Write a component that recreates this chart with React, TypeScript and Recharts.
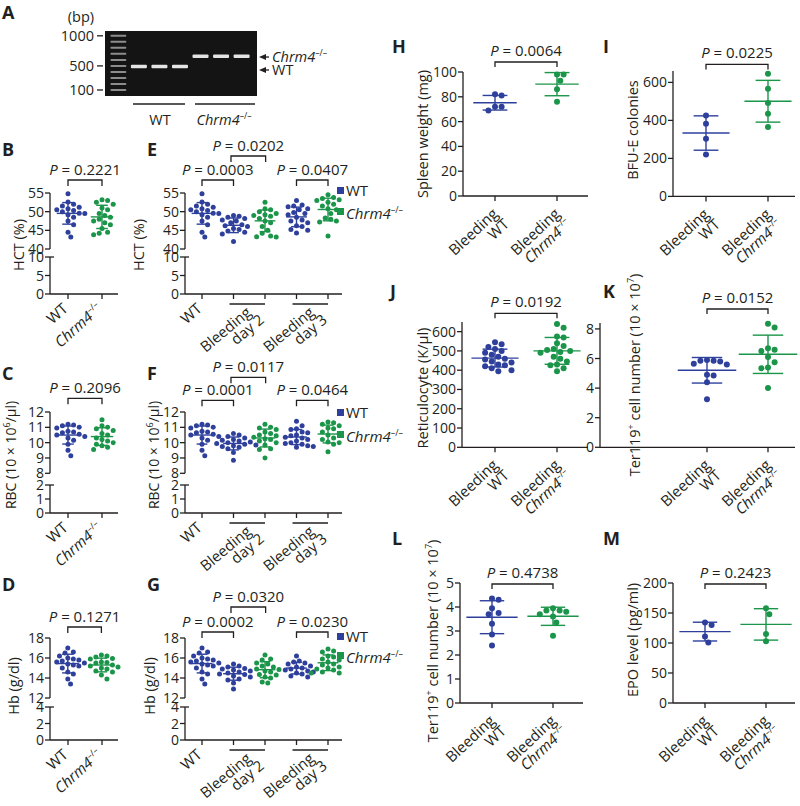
import React from 'react';
import { ScatterChart, Scatter, XAxis, YAxis, ReferenceLine, ReferenceArea } from 'recharts';

const FONT = '"Open Sans", "DejaVu Sans", sans-serif';
const INK = '#231F20';
const BLUE = '#2E409C';
const GREEN = '#1B9549';

// A: genotyping gel (bp)
const gelLadder = [1000, 900, 800, 700, 600, 500, 400, 300, 200, 100];
const gelTicks = [100, 500, 1000];
const gelWTLanes = [1, 2, 3];
const gelKOLanes = [4, 5, 6];
const gelWTSize = 490;
const gelKOSize = 660;

// HCT (%)
const hctWT = [54.8, 52.6, 52, 51.5, 51.2, 50.8, 50.5, 50.3, 50, 49.6, 49.5, 49.2, 48.5, 47.5, 46.5, 44.5, 43.2];
const hctKO = [53.2, 53, 52.5, 52, 51, 50.5, 49.5, 49, 48.5, 48, 47.5, 47, 46.5, 45.5, 44.5, 44.2, 43.8];
const hctD2WT = [49, 48.8, 48.5, 48.2, 47.8, 47.5, 47, 46.5, 46.2, 46, 45.5, 45.2, 44.8, 44.5, 44, 42];
const hctD2KO = [52.5, 50.8, 50.5, 50, 49.5, 49.2, 49, 48.8, 48.2, 47.5, 47, 46, 45, 44.2, 43.5, 43.3, 43.2];
const hctD3WT = [53, 51.8, 51.5, 51.3, 50.8, 50.5, 49.8, 49.5, 49.2, 48.5, 47.8, 47.5, 47, 46.2, 46, 45.2, 45, 44.3];
const hctD3KO = [54.5, 53.8, 53.5, 53.2, 53, 52.5, 52, 51.5, 50.8, 50.5, 49.5, 48.3, 48, 47.5, 47.2, 43.5];

// RBC (10 x 10^6/ul)
const rbcWT = [11.2, 11.15, 11.1, 11.0, 10.95, 10.75, 10.7, 10.65, 10.55, 10.5, 10.4, 10.3, 10.15, 9.9, 9.5, 9.15];
const rbcKO = [11.5, 11.1, 11.0, 10.9, 10.8, 10.6, 10.5, 10.3, 10.2, 10.1, 10.0, 9.9, 9.8, 9.7, 9.55];
const rbcD2WT = [10.6, 10.5, 10.4, 10.3, 10.2, 10.15, 10.1, 10.05, 10.0, 9.95, 9.9, 9.85, 9.8, 9.75, 9.7, 9.6, 9.35, 8.85];
const rbcD2KO = [11.2, 11.0, 10.95, 10.85, 10.7, 10.6, 10.5, 10.45, 10.35, 10.25, 10.2, 10.1, 10.0, 9.85, 9.6, 9.55, 9.0];
const rbcD3WT = [11.4, 11.1, 10.9, 10.85, 10.7, 10.65, 10.5, 10.45, 10.35, 10.3, 10.2, 10.1, 10.0, 9.95, 9.9, 9.8, 9.75, 9.7];
const rbcD3KO = [11.35, 11.3, 11.2, 11.1, 10.95, 10.9, 10.7, 10.6, 10.5, 10.3, 10.2, 10.05, 10.0, 9.9, 9.4];

// Hb (g/dl)
const hbWT = [17.0, 16.6, 16.5, 16.2, 16.0, 15.9, 15.8, 15.7, 15.6, 15.5, 15.4, 15.3, 15.2, 15.0, 14.6, 14.4, 13.9, 13.4];
const hbKO = [16.3, 16.2, 16.1, 15.95, 15.9, 15.6, 15.55, 15.5, 15.3, 15.2, 15.1, 15.0, 14.9, 14.7, 14.6, 14.3, 13.9];
const hbD2WT = [15.4, 15.2, 15.1, 14.95, 14.9, 14.8, 14.7, 14.6, 14.5, 14.4, 14.35, 14.2, 14.1, 13.9, 13.8, 13.5, 12.9];
const hbD2KO = [16.3, 15.9, 15.8, 15.5, 15.4, 15.2, 15.1, 14.9, 14.85, 14.7, 14.6, 14.35, 14.3, 14.1, 14.0, 13.6, 13.5];
const hbD3WT = [16.2, 15.7, 15.6, 15.5, 15.4, 15.2, 15.1, 15.0, 14.9, 14.8, 14.7, 14.6, 14.5, 14.4, 14.2, 14.1];
const hbD3KO = [16.9, 16.7, 16.6, 16.2, 16.1, 15.9, 15.8, 15.6, 15.4, 15.3, 15.1, 15.0, 14.9, 14.8, 14.6, 14.5, 14.5];

// bleeding experiments
const spleenWT = [82, 81, 72, 72, 69];
const spleenKO = [98, 98, 93, 86, 76];
const bfueWT = [426, 383, 304, 221];
const bfueKO = [646, 567, 491, 435, 365];
const reticWT = [545, 535, 520, 510, 500, 490, 480, 470, 460, 455, 445, 440, 430, 425, 420, 410, 400, 395];
const reticKO = [640, 620, 575, 570, 540, 525, 510, 505, 500, 495, 490, 470, 460, 445, 430, 425, 410, 395];
const ter119KWT = [5.9, 5.85, 5.85, 5.8, 5.65, 5.6, 4.9, 4.85, 4.4, 3.25];
const ter119KKO = [8.35, 8.1, 6.7, 6.6, 6.5, 6.1, 5.75, 5.4, 5.35, 4.0];
const ter119LWT = [4.35, 4.3, 3.95, 3.75, 3.7, 3.3, 2.85, 2.4];
const ter119LKO = [3.95, 3.85, 3.85, 3.8, 3.7, 3.6, 3.35, 2.8];
const epoWT = [134, 130, 111, 101];
const epoKO = [158, 148, 115, 103];

const mean = (a: number[]) => a.reduce((s, v) => s + v, 0) / a.length;
const sdev = (a: number[]) => {
  const m = mean(a);
  return Math.sqrt(a.reduce((s, v) => s + (v - m) ** 2, 0) / (a.length - 1));
};

// simple beeswarm: horizontal offsets (px) so dots don't overlap
function swarm(values: number[], ppuY: number, r: number): number[] {
  const d = 2 * r + 0.6;
  const idx = values.map((_, i) => i).sort((a, b) => values[b] - values[a]);
  const placed: [number, number][] = [];
  const out: number[] = new Array(values.length).fill(0);
  idx.forEach((i) => {
    const y = values[i] * ppuY;
    let off = 0;
    for (let k = 0; k < 80; k++) {
      const c = k === 0 ? 0 : (k % 2 === 1 ? 1 : -1) * Math.ceil(k / 2) * (d / 2);
      if (placed.every(([px, py]) => (px - c) ** 2 + (py - y) ** 2 >= d * d)) {
        off = c;
        break;
      }
    }
    placed.push([off, y]);
    out[i] = off;
  });
  return out;
}

const chrmSvg = (size: number) => [
  <tspan key="c" fontStyle="italic">Chrm4</tspan>,
  <tspan key="s" fontSize={size * 0.6} dy={-size * 0.42}>–/–</tspan>,
];
const tok = (s: string, size: number) => (s === 'Chrm4' ? chrmSvg(size) : s);

type Seg = { lo: number; hi: number; ticks: number[]; top: number; bottom: number };
type Grp = { values: number[]; color: string };
type Br = { a: number; b: number; p: string; up: number };
type XL = { at: number; lines: string[]; bar?: boolean; dx: number; dy: number; l2dx: number; l2dy: number; rot: number };

const SINGLE = { dx: 1, dy: 16, l2dx: 0, l2dy: 0, rot: -42 };
const DOUBLE_L = { dx: 3, dy: 20, l2dx: 5, l2dy: 14, rot: -40 };
const DOUBLE_R = { dx: 4, dy: 19, l2dx: 1, l2dy: 15, rot: -43 };

const pairLabels: XL[] = [
  { at: 0, lines: ['WT'], ...SINGLE },
  { at: 1, lines: ['Chrm4'], ...SINGLE },
];
const timeLabels: XL[] = [
  { at: 0, lines: ['WT'], ...SINGLE },
  { at: 1.5, lines: ['Bleeding', 'day 2'], bar: true, ...DOUBLE_L },
  { at: 3.5, lines: ['Bleeding', 'day 3'], bar: true, ...DOUBLE_L },
];
const bleedLabels: XL[] = [
  { at: 0, lines: ['Bleeding', 'WT'], ...DOUBLE_R },
  { at: 1, lines: ['Bleeding', 'Chrm4'], ...DOUBLE_R },
];

function XTick(props: any) {
  const { x, y, payload, n, labels, step } = props;
  const v = payload.value;
  const axisY = y - 5;
  const lab = (labels as XL[]).find((l) => Math.abs(l.at - v) < 1e-6);
  const isCat = Number.isInteger(v) && v >= 0 && v < n;
  const ax = lab ? x + lab.dx : 0;
  const ay = lab ? axisY + lab.dy : 0;
  return (
    <g>
      {isCat && <line x1={x} x2={x} y1={axisY} y2={axisY + 5} stroke={INK} strokeWidth={1.3} />}
      {lab && lab.bar && (
        <line x1={x - step / 2 - 4} x2={x + step / 2} y1={axisY + 10} y2={axisY + 10} stroke={INK} strokeWidth={1.3} />
      )}
      {lab && (
        <text transform={`rotate(${lab.rot} ${ax} ${ay})`} fontFamily={FONT} fontSize={15} fill={INK} textAnchor="end">
          {lab.lines.map((ln, i) => (
            <tspan key={i} x={ax + (i ? lab.l2dx : 0)} y={ay + (i ? lab.l2dy : 0)}>
              {tok(ln, 15)}
            </tspan>
          ))}
        </text>
      )}
    </g>
  );
}

function YTick(props: any) {
  const { x, y, payload, brk } = props;
  const axisX = x + 6;
  return (
    <g>
      <text x={x} y={y + 5} textAnchor="end" fontFamily={FONT} fontSize={14} fill={INK}>
        {payload.value}
      </text>
      {brk === payload.value && <line x1={axisX} x2={axisX + 4} y1={y} y2={y} stroke={INK} strokeWidth={1.3} />}
    </g>
  );
}

const YW = 60;

type PanelProps = {
  x0: number;
  x1: number;
  cat0: number;
  step: number;
  groups: Grp[];
  segs: Seg[];
  brackets: Br[];
  labels: XL[];
  r: number;
  meanW: number;
  capW: number;
  leg: number;
  pGap: number;
};

function DotPanel(p: PanelProps) {
  const n = p.groups.length;
  const dmin = (p.x0 - p.cat0) / p.step;
  const dmax = (p.x1 - p.cat0) / p.step;
  const s0 = p.segs[0];
  const ppu0 = (s0.bottom - s0.top) / (s0.hi - s0.lo);
  const pts = p.groups.map((g, gi) => {
    const offs = swarm(g.values, ppu0, p.r);
    return g.values.map((v, i) => ({ x: gi + offs[i] / p.step, y: v }));
  });
  const xTicks = Array.from(new Set([...p.groups.map((_, i) => i), ...p.labels.map((l) => l.at)])).sort((a, b) => a - b);

  return (
    <>
      {p.segs.map((s, si) => {
        const first = si === 0;
        const last = si === p.segs.length - 1;
        const h = s.bottom - s.top;
        const ppu = h / (s.hi - s.lo);
        const brk = si > 0 ? s.hi : null;
        return (
          <div key={si} style={{ position: 'absolute', left: p.x0 - YW, top: s.top }}>
            <ScatterChart width={YW + p.x1 - p.x0} height={h + (last ? 6 : 0)} margin={{ top: 0, right: 0, bottom: 0, left: 0 }}>
              <XAxis
                type="number"
                dataKey="x"
                domain={[dmin, dmax]}
                ticks={xTicks}
                interval={0}
                hide={!last}
                height={6}
                allowDataOverflow={!first}
                tickLine={false}
                tickSize={5}
                tickMargin={0}
                axisLine={{ stroke: INK, strokeWidth: 1.3 }}
                tick={(tp: any) => <XTick {...tp} n={n} labels={p.labels} step={p.step} />}
              />
              <YAxis
                type="number"
                dataKey="y"
                domain={[s.lo, s.hi]}
                ticks={s.ticks}
                interval={0}
                width={YW}
                allowDataOverflow={!first}
                tickSize={5}
                tickMargin={1}
                axisLine={{ stroke: INK, strokeWidth: 1.3 }}
                tickLine={{ stroke: INK, strokeWidth: 1.3 }}
                tick={(tp: any) => <YTick {...tp} brk={brk} />}
              />
              {first &&
                pts.map((d, gi) => (
                  <Scatter
                    key={`g${gi}`}
                    data={d}
                    fill={p.groups[gi].color}
                    isAnimationActive={false}
                    shape={(sp: any) => <circle cx={sp.cx} cy={sp.cy} r={p.r} fill={p.groups[gi].color} />}
                  />
                ))}
              {first &&
                p.groups.map((g, gi) => {
                  const m = mean(g.values);
                  const sd = sdev(g.values);
                  const st = { stroke: g.color, strokeWidth: 1.4, ifOverflow: 'visible' as const };
                  return [
                    <ReferenceLine key={`m${gi}`} segment={[{ x: gi - p.meanW, y: m }, { x: gi + p.meanW, y: m }]} {...st} />,
                    <ReferenceLine key={`v${gi}`} segment={[{ x: gi, y: m - sd }, { x: gi, y: m + sd }]} {...st} />,
                    <ReferenceLine key={`t${gi}`} segment={[{ x: gi - p.capW, y: m + sd }, { x: gi + p.capW, y: m + sd }]} {...st} />,
                    <ReferenceLine key={`b${gi}`} segment={[{ x: gi - p.capW, y: m - sd }, { x: gi + p.capW, y: m - sd }]} {...st} />,
                  ];
                })}
              {first &&
                p.brackets.map((b, bi) => {
                  const yb = s.hi + b.up / ppu;
                  return (
                    <ReferenceLine
                      key={`br${bi}`}
                      segment={[{ x: b.a, y: yb }, { x: b.b, y: yb }]}
                      ifOverflow="visible"
                      shape={(lp: any) => (
                        <g>
                          <path
                            d={`M${lp.x1},${lp.y1 + p.leg}V${lp.y1}H${lp.x2}V${lp.y2 + p.leg}`}
                            fill="none"
                            stroke={INK}
                            strokeWidth={1.3}
                          />
                          <text
                            x={(lp.x1 + lp.x2) / 2}
                            y={lp.y1 - p.pGap}
                            textAnchor="middle"
                            fontFamily={FONT}
                            fontSize={15}
                            fill={INK}
                          >
                            <tspan fontStyle="italic">P</tspan>
                            {' = ' + b.p}
                          </text>
                        </g>
                      )}
                    />
                  );
                })}
            </ScatterChart>
          </div>
        );
      })}
    </>
  );
}

function GelTick(props: any) {
  const { x, y, payload } = props;
  return (
    <g>
      <line x1={x - 8} x2={x - 2} y1={y} y2={y} stroke={INK} strokeWidth={1.3} />
      <text x={x - 11} y={y + 5} textAnchor="end" fontFamily={FONT} fontSize={14.5} fill={INK}>
        {payload.value}
      </text>
    </g>
  );
}

const bandShape = (w: number, h: number, fill: string) => (sp: any) => (
  <rect x={sp.cx - w / 2} y={sp.cy - h / 2} width={w} height={h} fill={fill} rx={1} />
);

function GelPanel() {
  const x0 = 105, x1 = 257, top = 31, bottom = 96, yw = 50;
  const dom: [number, number] = [-0.65, 6.75];
  const ladder = gelLadder.map((v) => ({ x: 0, y: v }));
  const wt = gelWTLanes.map((l) => ({ x: l, y: gelWTSize }));
  const ko = gelKOLanes.map((l) => ({ x: l, y: gelKOSize }));
  return (
    <div style={{ position: 'absolute', left: x0 - yw, top }}>
      <ScatterChart width={yw + x1 - x0} height={bottom - top} margin={{ top: 0, right: 0, bottom: 0, left: 0 }}>
        <XAxis type="number" dataKey="x" domain={dom} hide allowDataOverflow />
        <YAxis
          type="number"
          dataKey="y"
          domain={[0, 1080]}
          ticks={gelTicks}
          interval={0}
          width={yw}
          allowDataOverflow
          axisLine={false}
          tickLine={false}
          tickSize={0}
          tickMargin={0}
          tick={(tp: any) => <GelTick {...tp} />}
        />
        <ReferenceArea x1={dom[0]} x2={dom[1]} y1={0} y2={1080} fill="#141414" fillOpacity={1} stroke="none" ifOverflow="visible" />
        <Scatter data={ladder} isAnimationActive={false} shape={bandShape(16, 2, '#8c8c8c')} />
        <Scatter data={wt} isAnimationActive={false} shape={bandShape(16, 3.5, '#e4e4e4')} />
        <Scatter data={ko} isAnimationActive={false} shape={bandShape(16, 3.5, '#e4e4e4')} />
      </ScatterChart>
    </div>
  );
}

function VTitle({ cx, cy, size = 14.5, children }: { cx: number; cy: number; size?: number; children: React.ReactNode }) {
  return (
    <div
      style={{
        position: 'absolute',
        left: cx,
        top: cy,
        transform: 'translate(-50%, -50%) rotate(-90deg)',
        whiteSpace: 'nowrap',
        fontSize: size,
        lineHeight: 1,
      }}
    >
      {children}
    </div>
  );
}

function Letter({ x, y, t }: { x: number; y: number; t: string }) {
  return (
    <div style={{ position: 'absolute', left: x, top: y - 3, fontWeight: 700, fontSize: 18, lineHeight: 1 }}>{t}</div>
  );
}

function Legend2({ x, y1, y2 }: { x: number; y1: number; y2: number }) {
  const row = (y: number, color: string, label: React.ReactNode) => (
    <div style={{ position: 'absolute', left: x - 4, top: y - 9, display: 'flex', alignItems: 'center', whiteSpace: 'nowrap', fontSize: 15, lineHeight: '18px' }}>
      <span style={{ display: 'inline-block', width: 7, height: 7, background: color, marginRight: 2 }} />
      {label}
    </div>
  );
  return (
    <>
      {row(y1, BLUE, 'WT')}
      {row(y2, GREEN, <span><i>Chrm4</i><sup style={{ fontSize: 9 }}>–/–</sup></span>)}
    </>
  );
}

const sup = (t: string) => <sup style={{ fontSize: 9, lineHeight: 0 }}>{t}</sup>;

const L1 = { x0: 50, x1: 118, cat0: 68, step: 34 };
const L2 = { x0: 185, x1: 342, cat0: 202, step: 31.5 };
const leftStyle = { r: 2.5, meanW: 0.33, capW: 0.17, leg: 6, pGap: 5 };
const rightStyle = { r: 3, meanW: 0.38, capW: 0.2, leg: 5, pGap: 6 };

const hctSegs: Seg[] = [
  { lo: 40, hi: 55, ticks: [40, 45, 50, 55], top: 193, bottom: 249 },
  { lo: 0, hi: 10, ticks: [0, 5, 10], top: 257, bottom: 294 },
];
const rbcSegs: Seg[] = [
  { lo: 8, hi: 12, ticks: [8, 9, 10, 11, 12], top: 411.7, bottom: 473 },
  { lo: 0, hi: 2, ticks: [0, 1, 2], top: 485, bottom: 513 },
];
const hbSegs: Seg[] = [
  { lo: 12, hi: 18, ticks: [12, 14, 16, 18], top: 638, bottom: 698 },
  { lo: 0, hi: 4, ticks: [0, 2, 4], top: 707, bottom: 740 },
];

const g2 = (a: number[], b: number[]): Grp[] => [
  { values: a, color: BLUE },
  { values: b, color: GREEN },
];
const g5 = (a: number[], b: number[], c: number[], d: number[], e: number[]): Grp[] => [
  { values: a, color: BLUE },
  { values: b, color: BLUE },
  { values: c, color: GREEN },
  { values: d, color: BLUE },
  { values: e, color: GREEN },
];

export default function App() {
  return (
    <div
      style={{
        position: 'absolute',
        left: 0,
        top: 0,
        width: 800,
        height: 806,
        background: '#fff',
        fontFamily: FONT,
        color: INK,
        overflow: 'hidden',
      }}
    >
      <style>{'.recharts-surface{overflow:visible}.recharts-wrapper{overflow:visible}'}</style>

      {/* A */}
      <GelPanel />
      <svg style={{ position: 'absolute', left: 0, top: 0 }} width={400} height={130} fontFamily={FONT}>
        <text x={81} y={22} textAnchor="middle" fontSize={14.5} fill={INK}>(bp)</text>
        <polygon points="259,57 266,54 266,60" fill={INK} />
        <line x1={265} x2={269} y1={57} y2={57} stroke={INK} strokeWidth={1.3} />
        <text x={272} y={62} fontSize={14.5} fill={INK}>{chrmSvg(14.5)}</text>
        <polygon points="259,70 266,67 266,73" fill={INK} />
        <line x1={265} x2={269} y1={70} y2={70} stroke={INK} strokeWidth={1.3} />
        <text x={272} y={75} fontSize={14.5} fill={INK}>WT</text>
        <line x1={133} x2={185} y1={104} y2={104} stroke={INK} strokeWidth={1.3} />
        <line x1={195} x2={255} y1={104} y2={104} stroke={INK} strokeWidth={1.3} />
        <text x={160} y={125} textAnchor="middle" fontSize={14.5} fill={INK}>WT</text>
        <text x={224} y={125} textAnchor="middle" fontSize={14.5} fill={INK}>{chrmSvg(14.5)}</text>
      </svg>

      {/* B-G */}
      <DotPanel {...L1} {...leftStyle} groups={g2(hctWT, hctKO)} segs={hctSegs} labels={pairLabels}
        brackets={[{ a: 0, b: 1, p: '0.2221', up: 13 }]} />
      <DotPanel {...L2} {...leftStyle} groups={g5(hctWT, hctD2WT, hctD2KO, hctD3WT, hctD3KO)} segs={hctSegs} labels={timeLabels}
        brackets={[
          { a: 0, b: 1, p: '0.0003', up: 13 },
          { a: 0.92, b: 2.02, p: '0.0202', up: 37 },
          { a: 3, b: 4, p: '0.0407', up: 13 },
        ]} />
      <DotPanel {...L1} {...leftStyle} groups={g2(rbcWT, rbcKO)} segs={rbcSegs} labels={pairLabels}
        brackets={[{ a: 0, b: 1, p: '0.2096', up: 13.7 }]} />
      <DotPanel {...L2} {...leftStyle} groups={g5(rbcWT, rbcD2WT, rbcD2KO, rbcD3WT, rbcD3KO)} segs={rbcSegs} labels={timeLabels}
        brackets={[
          { a: 0, b: 1, p: '0.0001', up: 11.7 },
          { a: 0.92, b: 2.02, p: '0.0117', up: 34.7 },
          { a: 3, b: 4, p: '0.0464', up: 11.7 },
        ]} />
      <DotPanel {...L1} {...leftStyle} groups={g2(hbWT, hbKO)} segs={hbSegs} labels={pairLabels}
        brackets={[{ a: 0, b: 1, p: '0.1271', up: 11 }]} />
      <DotPanel {...L2} {...leftStyle} groups={g5(hbWT, hbD2WT, hbD2KO, hbD3WT, hbD3KO)} segs={hbSegs} labels={timeLabels}
        brackets={[
          { a: 0, b: 1, p: '0.0002', up: 6 },
          { a: 0.92, b: 2.02, p: '0.0320', up: 31 },
          { a: 3, b: 4, p: '0.0230', up: 6 },
        ]} />

      <Legend2 x={341} y1={190} y2={210} />
      <Legend2 x={341} y1={412} y2={433} />
      <Legend2 x={341} y1={636} y2={654} />

      {/* H-M */}
      <DotPanel x0={463} x1={588} cat0={495} step={62} {...rightStyle} meanW={0.35} groups={g2(spleenWT, spleenKO)}
        segs={[{ lo: 0, hi: 100, ticks: [0, 20, 40, 60, 80, 100], top: 72, bottom: 196 }]} labels={bleedLabels}
        brackets={[{ a: 0, b: 1, p: '0.0064', up: 10 }]} />
      <DotPanel x0={673} x1={795} cat0={706} step={62} {...rightStyle} groups={g2(bfueWT, bfueKO)}
        segs={[{ lo: 0, hi: 660, ticks: [0, 200, 400, 600], top: 70.6, bottom: 196 }]} labels={bleedLabels}
        brackets={[{ a: 0, b: 1, p: '0.0225', up: 6.6 }]} />
      <DotPanel x0={462} x1={588} cat0={495} step={62} {...rightStyle} groups={g2(reticWT, reticKO)}
        segs={[{ lo: 0, hi: 650, ticks: [0, 100, 200, 300, 400, 500, 600], top: 322, bottom: 447.3 }]} labels={bleedLabels}
        brackets={[{ a: 0, b: 1, p: '0.0192', up: 8.7 }]} />
      <DotPanel x0={600} x1={795} cat0={707} step={61} {...rightStyle} meanW={0.48} capW={0.25} groups={g2(ter119KWT, ter119KKO)}
        segs={[{ lo: 0, hi: 8.4, ticks: [0, 2, 4, 6, 8], top: 323, bottom: 447.3 }]} labels={bleedLabels}
        brackets={[{ a: 0, b: 1, p: '0.0152', up: 14 }]} />
      <DotPanel x0={460} x1={583} cat0={492} step={61} {...rightStyle} meanW={0.42} groups={g2(ter119LWT, ter119LKO)}
        segs={[{ lo: 0, hi: 5, ticks: [0, 1, 2, 3, 4, 5], top: 583.3, bottom: 703.3 }]} labels={bleedLabels}
        brackets={[{ a: 0, b: 1, p: '0.4738', up: -1 }]} />
      <DotPanel x0={673} x1={795} cat0={705} step={61} {...rightStyle} meanW={0.42} groups={g2(epoWT, epoKO)}
        segs={[{ lo: 0, hi: 200, ticks: [0, 50, 100, 150, 200], top: 583.3, bottom: 703.3 }]} labels={bleedLabels}
        brackets={[{ a: 0, b: 1, p: '0.2423', up: -1 }]} />

      {/* axis titles */}
      <VTitle cx={19} cy={245}>HCT (%)</VTitle>
      <VTitle cx={139} cy={245}>HCT (%)</VTitle>
      <VTitle cx={11} cy={455} size={14}>RBC (10 × 10{sup('6')}/μl)</VTitle>
      <VTitle cx={154} cy={455} size={14}>RBC (10 × 10{sup('6')}/μl)</VTitle>
      <VTitle cx={14} cy={686}>Hb (g/dl)</VTitle>
      <VTitle cx={150} cy={686}>Hb (g/dl)</VTitle>
      <VTitle cx={423} cy={134}>Spleen weight (mg)</VTitle>
      <VTitle cx={633} cy={130}>BFU-E colonies</VTitle>
      <VTitle cx={423} cy={388}>Reticulocyte (K/μl)</VTitle>
      <VTitle cx={635} cy={375}>Ter119{sup('+')} cell number (10 × 10{sup('7')})</VTitle>
      <VTitle cx={433} cy={641}>Ter119{sup('+')} cell number (10 × 10{sup('7')})</VTitle>
      <VTitle cx={633} cy={640}>EPO level (pg/ml)</VTitle>

      {/* panel letters */}
      <Letter x={2} y={6} t="A" />
      <Letter x={2} y={143} t="B" />
      <Letter x={147} y={143} t="E" />
      <Letter x={2} y={367} t="C" />
      <Letter x={147} y={367} t="F" />
      <Letter x={2} y={578} t="D" />
      <Letter x={147} y={578} t="G" />
      <Letter x={392} y={40} t="H" />
      <Letter x={603} y={40} t="I" />
      <Letter x={390} y={285} t="J" />
      <Letter x={603} y={285} t="K" />
      <Letter x={392} y={532} t="L" />
      <Letter x={603} y={532} t="M" />
    </div>
  );
}
